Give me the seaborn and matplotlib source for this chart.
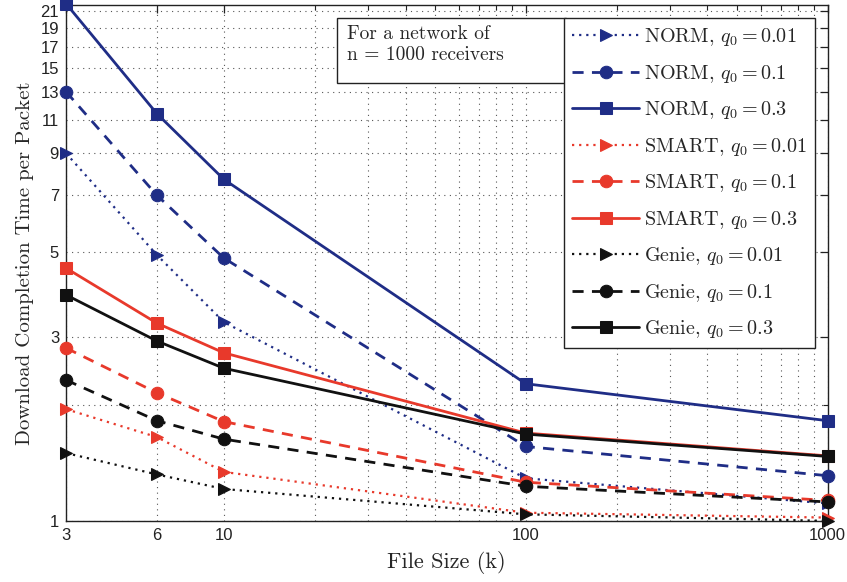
import numpy as np
import pandas as pd
import matplotlib
matplotlib.use("Agg")
import matplotlib.pyplot as plt
from matplotlib.patches import Rectangle
from matplotlib.ticker import FixedLocator, NullFormatter
import seaborn as sns

# File sizes (k)
file_size = [3, 6, 10, 100, 1000]

# Download completion time per packet
norm_001 = [9.0, 4.90, 3.28, 1.29, 1.11]
norm_01 = [13.0, 7.0, 4.81, 1.56, 1.31]
norm_03 = [22.0, 11.4, 7.7, 2.27, 1.82]
smart_001 = [1.95, 1.65, 1.34, 1.05, 1.02]
smart_01 = [2.81, 2.15, 1.81, 1.26, 1.13]
smart_03 = [4.53, 3.26, 2.73, 1.69, 1.475]
genie_001 = [1.50, 1.32, 1.21, 1.04, 1.00]
genie_01 = [2.32, 1.82, 1.63, 1.23, 1.12]
genie_03 = [3.86, 2.93, 2.49, 1.68, 1.47]

series_names = [
    r"NORM, $q_0 = 0.01$", r"NORM, $q_0 = 0.1$", r"NORM, $q_0 = 0.3$",
    r"SMART, $q_0 = 0.01$", r"SMART, $q_0 = 0.1$", r"SMART, $q_0 = 0.3$",
    r"Genie, $q_0 = 0.01$", r"Genie, $q_0 = 0.1$", r"Genie, $q_0 = 0.3$",
]
series_values = [norm_001, norm_01, norm_03,
                 smart_001, smart_01, smart_03,
                 genie_001, genie_01, genie_03]

x_ticks = [3, 6, 10, 100, 1000]
y_ticks = [1, 3, 5, 7, 9, 11, 13, 15, 17, 19, 21]

BLUE = "#1f2d86"
RED = "#e8392b"
BLACK = "#111111"
colors = [BLUE] * 3 + [RED] * 3 + [BLACK] * 3
styles = [(0, (1, 2.2)), (0, (4, 3)), "-"] * 3
markers = [">", "o", "s"] * 3
widths = [1.6, 2.0, 2.0] * 3

sns.set_theme(style="white")
plt.rcParams["mathtext.fontset"] = "cm"
plt.rcParams["axes.unicode_minus"] = False
plt.rcParams["font.family"] = ["Liberation Sans", "DejaVu Sans"]

fig = plt.figure(figsize=(8.47, 5.82), dpi=100)
ax = fig.add_axes([0.078, 0.105, 0.899, 0.886])

frames = []
for name, vals in zip(series_names, series_values):
    frames.append(pd.DataFrame({"size": file_size, "time": vals, "series": name}))
df = pd.concat(frames, ignore_index=True)

for name, c, ls, m, lw in zip(series_names, colors, styles, markers, widths):
    sub = df[df["series"] == name]
    sns.lineplot(data=sub, x="size", y="time", ax=ax, color=c, linestyle=ls,
                 marker=m, markersize=9, markeredgecolor=c, markerfacecolor=c,
                 linewidth=lw, label=name, clip_on=False, zorder=3)

ax.set_xscale("log")
ax.set_yscale("log")
ax.set_xlim(3, 1000)
ax.set_ylim(1, 21.8)

ax.xaxis.set_major_locator(FixedLocator(x_ticks))
ax.set_xticklabels([str(v) for v in x_ticks])
minor_x = [20, 30, 40, 50, 60, 70, 80, 90, 200, 300, 400, 500, 600, 700, 800, 900]
ax.xaxis.set_minor_locator(FixedLocator(minor_x))
ax.xaxis.set_minor_formatter(NullFormatter())
ax.yaxis.set_major_locator(FixedLocator(y_ticks))
ax.set_yticklabels([str(v) for v in y_ticks])
ax.yaxis.set_minor_locator(FixedLocator([2]))
ax.yaxis.set_minor_formatter(NullFormatter())

ax.tick_params(which="both", direction="in", top=True, right=True,
               labelsize=12, colors="#222222", pad=5)
ax.tick_params(which="major", length=6, width=0.9)
ax.tick_params(which="minor", length=3.5, width=0.8)

ax.grid(True, which="both", linestyle=(0, (1, 4)), color="#555555", linewidth=0.8)
ax.set_axisbelow(True)
for sp in ax.spines.values():
    sp.set_color("#222222")
    sp.set_linewidth(1.0)

ax.set_xlabel("File Size (k)", fontfamily="cmr10", fontsize=16, labelpad=6)
ax.set_ylabel("Download Completion Time per Packet", fontfamily="cmr10",
              fontsize=15, labelpad=5)

# note box about the network size
ax.add_patch(Rectangle((0.356, 0.849), 0.301, 0.126, transform=ax.transAxes,
                       facecolor="white", edgecolor="#222222", linewidth=1.0,
                       zorder=4))
ax.text(0.369, 0.962, "For a network of\nn = 1000 receivers", transform=ax.transAxes,
        fontfamily="cmr10", fontsize=14, va="top", ha="left", linespacing=1.25,
        zorder=5)

leg = ax.legend(loc="upper right", bbox_to_anchor=(0.983, 0.975), frameon=True,
                fancybox=False, edgecolor="#222222", framealpha=1.0,
                prop={"family": "cmr10", "size": 14.5}, handlelength=3.3,
                labelspacing=0.72, borderpad=0.4, handletextpad=0.25,
                borderaxespad=0.0)
leg.get_frame().set_linewidth(1.0)
leg.set_zorder(6)

fig.savefig("out.png", dpi=100)
